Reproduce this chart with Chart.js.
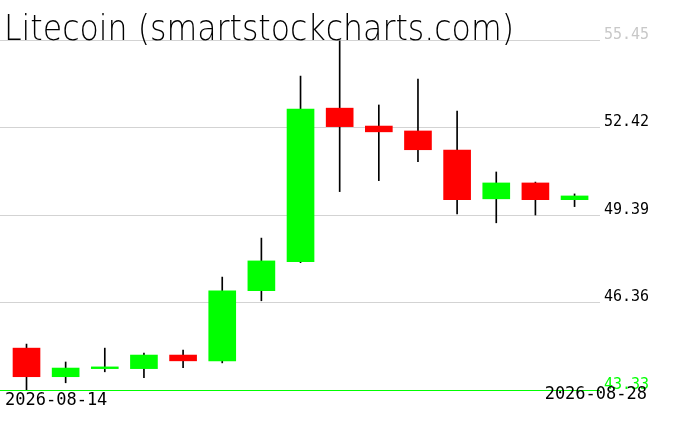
<!DOCTYPE html>
<html>
<head>
<meta charset="utf-8">
<script src="https://cdn.jsdelivr.net/npm/chart.js@4"></script>
<style>
  html, body { margin: 0; padding: 0; background: #fff; }
  #wrap { width: 676px; height: 431px; }
</style>
</head>
<body>
<div id="wrap"><canvas id="chart" width="676" height="431"></canvas></div>
<script>
var chartTitle = 'Litecoin (smartstockcharts.com)';
var dates = ['2026-08-14', '2026-08-15', '2026-08-16', '2026-08-17', '2026-08-18',
  '2026-08-19', '2026-08-20', '2026-08-21', '2026-08-22', '2026-08-23',
  '2026-08-24', '2026-08-25', '2026-08-26', '2026-08-27', '2026-08-28'];
var opens  = [44.78, 43.79, 44.07, 44.07, 44.54, 44.34, 46.77, 47.77, 53.09, 52.47, 52.30, 51.64, 49.95, 50.50, 49.92];
var closes = [43.79, 44.09, 44.13, 44.54, 44.34, 46.76, 47.80, 53.06, 52.45, 52.27, 51.65, 49.92, 50.50, 49.92, 50.05];
var highs  = [44.92, 44.30, 44.78, 44.61, 44.71, 47.24, 48.59, 54.20, 55.42, 53.20, 54.10, 52.99, 50.88, 50.53, 50.12];
var lows   = [43.33, 43.58, 43.96, 43.76, 44.10, 44.27, 46.42, 47.74, 50.20, 50.58, 51.24, 49.43, 49.12, 49.39, 49.68];
var yTicks = [43.33, 46.36, 49.39, 52.42, 55.45];

var UP = '#00ff00', DOWN = '#ff0000';

var bodies = dates.map(function (d, i) { return { x: i, y: [opens[i], closes[i]] }; });
var wicks = dates.map(function (d, i) { return { x: i, y: [lows[i], highs[i]] }; });
var bodyColors = dates.map(function (d, i) { return closes[i] >= opens[i] ? UP : DOWN; });

// title and the two date labels
var textPlugin = {
  id: 'texts',
  afterDraw: function (chart) {
    var ctx = chart.ctx;
    ctx.save();
    ctx.fillStyle = '#000';
    ctx.textBaseline = 'alphabetic';
    ctx.font = '200 36px "DejaVu Sans"';
    var w = ctx.measureText(chartTitle).width;
    ctx.translate(4, 40);
    ctx.scale(510 / w, 1);
    ctx.fillText(chartTitle, 0, 0);
    ctx.restore();

    ctx.save();
    ctx.fillStyle = '#000';
    ctx.font = '17px "DejaVu Sans Mono"';
    ctx.textBaseline = 'middle';
    ctx.textAlign = 'left';
    ctx.fillText(dates[0], 5, 401);
    ctx.textAlign = 'right';
    ctx.fillText(dates[dates.length - 1], 647, 395);
    ctx.restore();
  }
};

new Chart(document.getElementById('chart'), {
  type: 'bar',
  data: {
    datasets: [{
      data: bodies,
      backgroundColor: bodyColors,
      barThickness: 27,
      minBarLength: 1,
      grouped: false
    }, {
      data: wicks,
      backgroundColor: '#000',
      barThickness: 1,
      grouped: false
    }]
  },
  options: {
    responsive: false,
    animation: false,
    layout: { padding: { top: 40, bottom: 41, left: 0, right: 0 } },
    plugins: {
      legend: { display: false },
      tooltip: { enabled: false },
      title: { display: false }
    },
    scales: {
      x: {
        type: 'linear',
        display: false,
        offset: false,
        min: -0.677,
        max: 14.65
      },
      y: {
        position: 'right',
        z: 1,
        min: 43.33,
        max: 55.45,
        afterBuildTicks: function (scale) {
          scale.ticks = yTicks.map(function (v) { return { value: v }; });
        },
        afterFit: function (scale) { scale.width = 76; },
        border: { display: false },
        grid: {
          drawTicks: false,
          color: function (c) { return c.tick && c.tick.value === 43.33 ? UP : '#d3d3d3'; },
          lineWidth: 1
        },
        ticks: {
          padding: 4,
          labelOffset: -5,
          font: { family: '"DejaVu Sans Mono"', size: 15 },
          color: function (c) {
            if (c.tick.value === 43.33) return UP;
            if (c.tick.value === 55.45) return '#c8c8c8';
            return '#000';
          },
          callback: function (v) { return v.toFixed(2); }
        }
      }
    }
  },
  plugins: [textPlugin]
});
</script>
</body>
</html>
